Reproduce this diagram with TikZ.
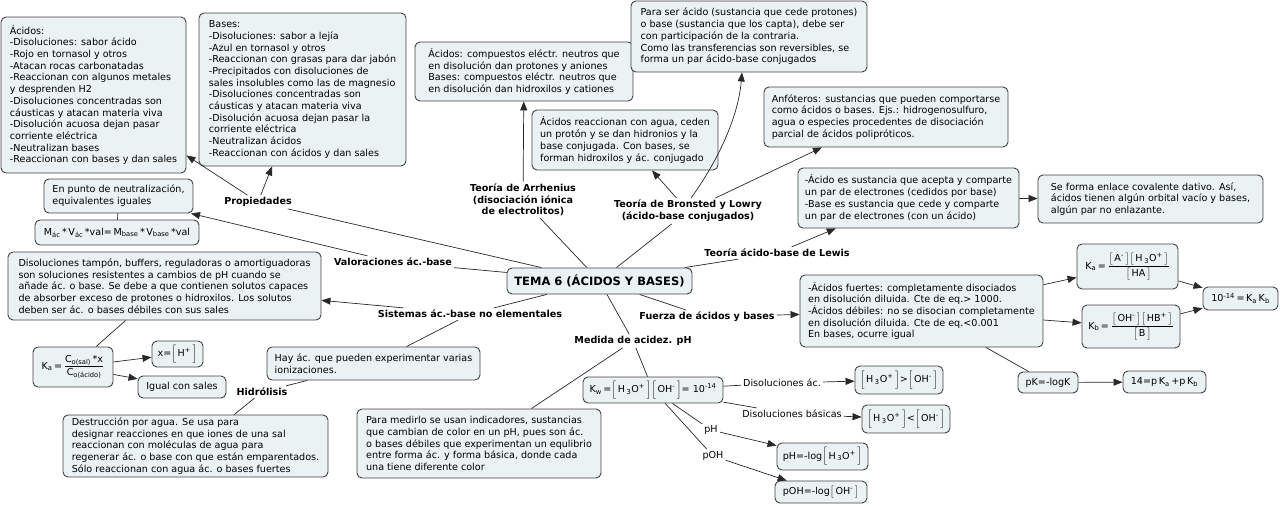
\documentclass[tikz,border=0pt]{standalone}
\usepackage{fontspec}
\setmainfont{DejaVu Sans}
\usepackage{amsmath}
\usetikzlibrary{arrows.meta,calc}
\definecolor{boxfill}{RGB}{234,242,243}
\definecolor{boxline}{RGB}{65,65,65}
\definecolor{conn}{RGB}{40,40,40}
\newcommand{\fs}{\fontsize{9.6}{11.7}\selectfont}
\newcommand{\sbx}[1]{\textsubscript{#1}}
\newcommand{\spx}[1]{\textsuperscript{#1}}
\newcommand{\lbk}{\ensuremath{\Bigl[}\,}
\newcommand{\rbk}{\,\ensuremath{\Bigr]}}
\newcommand{\lbs}{\ensuremath{\bigl[}\,}
\newcommand{\rbs}{\,\ensuremath{\bigr]}}
\begin{document}
\begin{tikzpicture}[x=1pt,y=-1pt,
 cbox/.style={draw=boxline, fill=boxfill, rounded corners=5pt, line width=0.9pt, align=left, inner xsep=6pt, inner ysep=2pt, font=\fs},
 fbox/.style={cbox, align=center},
 lab/.style={font=\fs\bfseries, align=center, inner sep=2pt},
 plab/.style={font=\fs, inner sep=2pt},
 con/.style={draw=conn, line width=0.7pt},
 arr/.style={con, -{Triangle[length=9pt,width=7pt]}},
]
\useasboundingbox (0,0) rectangle (1280,506);

% ---- boxes ----
\node[cbox, minimum width=185pt, minimum height=156pt] (acid) at (93.5,95) {Ácidos:\\-Disoluciones: sabor ácido\\-Rojo en tornasol y otros\\-Atacan rocas carbonatadas\\-Reaccionan con algunos metales\\y desprenden H2\\-Disoluciones concentradas son\\cáusticas y atacan materia viva\\-Disolución acuosa dejan pasar\\corriente eléctrica\\-Neutralizan bases\\-Reaccionan con bases y dan sales};
\node[cbox, minimum width=207pt, minimum height=153pt] (bases) at (302.5,89.5) {Bases:\\-Disoluciones: sabor a lejía\\-Azul en tornasol y otros\\-Reaccionan con grasas para dar jabón\\-Precipitados con disoluciones de\\sales insolubles como las de magnesio\\-Disoluciones concentradas son\\cáusticas y atacan materia viva\\-Disolución acuosa dejan pasar la\\corriente eléctrica\\-Neutralizan ácidos\\-Reaccionan con ácidos y dan sales};
\node[cbox, minimum width=149pt, minimum height=34pt] (enpunto) at (118.5,196) {En punto de neutralización,\\equivalentes iguales};
\node[fbox, minimum width=164pt, minimum height=25pt] (mform) at (117,232.5) {M\sbx{ác}\,*\,V\sbx{ác}\,*val=\,M\sbx{base}\,*\,V\sbx{base}\,*val};
\node[cbox, minimum width=218pt, minimum height=59pt] (arrhbox) at (524,71.5) {Ácidos: compuestos eléctr. neutros que\\en disolución dan protones y aniones\\Bases: compuestos eléctr. neutros que\\en disolución dan hidroxilos y cationes};
\node[cbox, minimum width=236pt, minimum height=71pt] (paraser) at (749,36.5) {Para ser ácido (sustancia que cede protones)\\o base (sustancia que los capta), debe ser\\con participación de la contraria.\\Como las transferencias son reversibles, se\\forma un par ácido-base conjugados};
\node[cbox, minimum width=186pt, minimum height=60pt] (acreac) at (625,140) {Ácidos reaccionan con agua, ceden\\un protón y se dan hidronios y la\\base conjugada. Con bases, se\\forman hidroxilos y ác. conjugado};
\node[cbox, minimum width=244pt, minimum height=60pt] (anfo) at (886,117) {Anfóteros: sustancias que pueden comportarse\\como ácidos o bases. Ejs.: hidrogenosulfuro,\\agua o especies procedentes de disociación\\parcial de ácidos polipróticos.};
\node[cbox, minimum width=221pt, minimum height=60pt] (lewisbox) at (908.5,198) {-Ácido es sustancia que acepta y comparte\\un par de electrones (cedidos por base)\\-Base es sustancia que cede y comparte\\un par de electrones (con un ácido)};
\node[cbox, minimum width=225pt, minimum height=48pt] (seforma) at (1150.5,199) {Se forma enlace covalente dativo. Así,\\ácidos tienen algún orbital vacío y bases,\\algún par no enlazante.};
\node[fbox, minimum width=185pt, minimum height=26pt, font=\fontsize{11.5}{13}\selectfont\bfseries] (tema) at (599.5,281) {TEMA 6 (ÁCIDOS Y BASES)};
\node[cbox, minimum width=313pt, minimum height=68pt] (tampon) at (164.5,286) {Disoluciones tampón, buffers, reguladoras o amortiguadoras\\son soluciones resistentes a cambios de pH cuando se\\añade ác. o base. Se debe a que contienen solutos capaces\\de absorber exceso de protones o hidroxilos. Los solutos\\deben ser ác. o bases débiles con sus sales};
\node[fbox, minimum width=80pt, minimum height=40pt, inner xsep=3pt] (kasal) at (73,367) {K\sbx{a}\,=\,$\dfrac{\text{C\sbx{o(sal)}\,*x}}{\text{C\sbx{o(ácido)}}}$};
\node[fbox, minimum width=51pt, minimum height=26pt, inner xsep=3pt] (xh) at (177.5,354) {x=\lbk H\spx{+}\rbk};
\node[fbox, minimum width=88pt, minimum height=22pt] (igual) at (182,387) {Igual con sales};
\node[cbox, minimum width=213pt, minimum height=33pt] (hay) at (373.5,363.5) {Hay ác. que pueden experimentar varias\\ionizaciones.};
\node[cbox, minimum width=265pt, minimum height=62pt] (destr) at (195.5,446) {Destrucción por agua. Se usa para\\designar reacciones en que iones de una sal\\reaccionan con moléculas de agua para\\regenerar ác. o base con que están emparentados.\\Sólo reaccionan con agua ác. o bases fuertes};
\node[cbox, minimum width=244pt, minimum height=69pt] (medir) at (479,443.5) {Para medirlo se usan indicadores, sustancias\\que cambian de color en un pH, pues son ác.\\o bases débiles que experimentan un equlibrio\\entre forma ác. y forma básica, donde cada\\una tiene diferente color};
\node[fbox, minimum width=140pt, minimum height=26pt, inner xsep=2pt] (kw) at (653,390) {K\sbx{w}\,=\lbk H\,\sbx{3}O\spx{+}\rbk\lbk OH\spx{-}\rbk= 10\spx{-14}};
\node[fbox, minimum width=88pt, minimum height=28pt, inner xsep=2pt] (gt) at (899,380) {\lbk H\,\sbx{3}O\spx{+}\rbk>\lbk OH\spx{-}\rbk};
\node[fbox, minimum width=88pt, minimum height=28pt, inner xsep=2pt] (lt) at (906,419) {\lbk H\,\sbx{3}O\spx{+}\rbk<\lbk OH\spx{-}\rbk};
\node[fbox, minimum width=91pt, minimum height=27pt, inner xsep=2pt] (phbox) at (822.5,456.5) {pH=-log\lbk H\,\sbx{3}O\spx{+}\rbk};
\node[fbox, minimum width=92pt, minimum height=22pt, inner xsep=2pt] (pohbox) at (821,492) {pOH=-log\lbs OH\spx{-}\rbs};
\node[cbox, minimum width=243pt, minimum height=72pt] (fuerza) at (921.5,311) {-Ácidos fuertes: completamente disociados\\en disolución diluida. Cte de eq.> 1000.\\-Ácidos débiles: no se disocian completamente\\en disolución diluida. Cte de eq.<0.001\\En bases, ocurre igual};
\node[fbox, minimum width=101pt, minimum height=45pt, inner xsep=2pt] (ka) at (1127.5,266.5) {K\sbx{a}\,=\,$\dfrac{\text{\lbs A\spx{-}\rbs\lbs H\,\sbx{3}O\spx{+}\rbs}}{\text{\lbs HA\rbs}}$};
\node[fbox, minimum width=98pt, minimum height=43pt, inner xsep=2pt] (kb) at (1131,326.5) {K\sbx{b}\,=\,$\dfrac{\text{\lbs OH\spx{-}\rbs\lbs HB\spx{+}\rbs}}{\text{\lbs B\rbs}}$};
\node[fbox, minimum width=75pt, minimum height=23pt, inner xsep=2pt] (k14) at (1240.5,298.5) {10\spx{-14}\,=\,K\sbx{a}\,K\sbx{b}};
\node[fbox, minimum width=60pt, minimum height=21pt, inner xsep=2pt] (pk) at (1048,382.5) {pK=-logK};
\node[fbox, minimum width=83pt, minimum height=22pt, inner xsep=2pt] (pk14) at (1164.5,382) {14=p\,K\sbx{a}\,+p\,K\sbx{b}};

% ---- linking phrases ----
\node[lab] (prop) at (258,202) {Propiedades};
\node[lab] (valor) at (393,262) {Valoraciones ác.-base};
\node[lab] (sist) at (470,314) {Sistemas ác.-base no elementales};
\node[lab] (hidro) at (262,392) {Hidrólisis};
\node[lab] (arrhlab) at (523,200) {Teoría de Arrhenius\\(disociación iónica\\de electrolitos)};
\node[lab] (bronlab) at (688,211) {Teoría de Bronsted y Lowry\\(ácido-base conjugados)};
\node[lab] (lewislab) at (777,253) {Teoría ácido-base de Lewis};
\node[lab] (fuerzalab) at (707,317) {Fuerza de ácidos y bases};
\node[lab] (medida) at (633,341) {Medida de acidez. pH};
\node[plab] (disac) at (782,383) {Disoluciones ác.};
\node[plab] (disbas) at (792,414) {Disoluciones básicas};
\node[plab] (phlab) at (711,430) {pH};
\node[plab] (pohlab) at (713,456) {pOH};

% ---- connectors ----
\draw[con] (tema) -- (prop);
\draw[arr] (prop) -- (acid);
\draw[arr] (prop) -- (bases);
\draw[con] (tema) -- (valor);
\draw[arr] (valor) -- (enpunto);
\draw[con] (enpunto) -- (mform);
\draw[con] (tema) -- (arrhlab);
\draw[arr] (arrhlab) -- (arrhbox);
\draw[con] (tema) -- (bronlab);
\draw[arr] (bronlab) -- (acreac);
\draw[arr] ($(bronlab.north)+(3,0)$) .. controls (715,165) and (738,120) .. ($(paraser.south)+(-7,0)$);
\draw[arr] (bronlab) -- (anfo);
\draw[con] (tema) -- (lewislab);
\draw[arr] (lewislab) -- (lewisbox);
\draw[arr] (lewisbox) -- (seforma);
\draw[con] (tema) -- (fuerzalab);
\draw[arr] (fuerzalab) -- (fuerza);
\draw[arr] (fuerza) -- (ka);
\draw[arr] (fuerza) -- (kb);
\draw[arr] (ka) -- (k14);
\draw[arr] (kb) -- (k14);
\draw[con] (fuerza) -- (pk);
\draw[arr] (pk) -- (pk14);
\draw[con] (tema) -- (sist);
\draw[arr] (sist) -- (tampon);
\draw[con] (tampon) -- (kasal);
\draw[arr] (kasal) -- (xh);
\draw[arr] (kasal) -- (igual);
\draw[con] (sist) -- (hay);
\draw[con] (hay) -- (hidro);
\draw[con] (hidro) -- (destr);
\draw[con] (tema) -- (medida);
\draw[con] (medida) -- (medir);
\draw[con] (medida) -- (kw);
\draw[con] (kw) -- (disac);
\draw[arr] (disac) -- (gt);
\draw[con] (kw) -- (disbas);
\draw[arr] (disbas) -- (lt);
\draw[con] (kw) -- (phlab);
\draw[arr] (phlab) -- (phbox);
\draw[con] (kw) -- (pohlab);
\draw[arr] (pohlab) -- (pohbox);
\end{tikzpicture}
\end{document}
